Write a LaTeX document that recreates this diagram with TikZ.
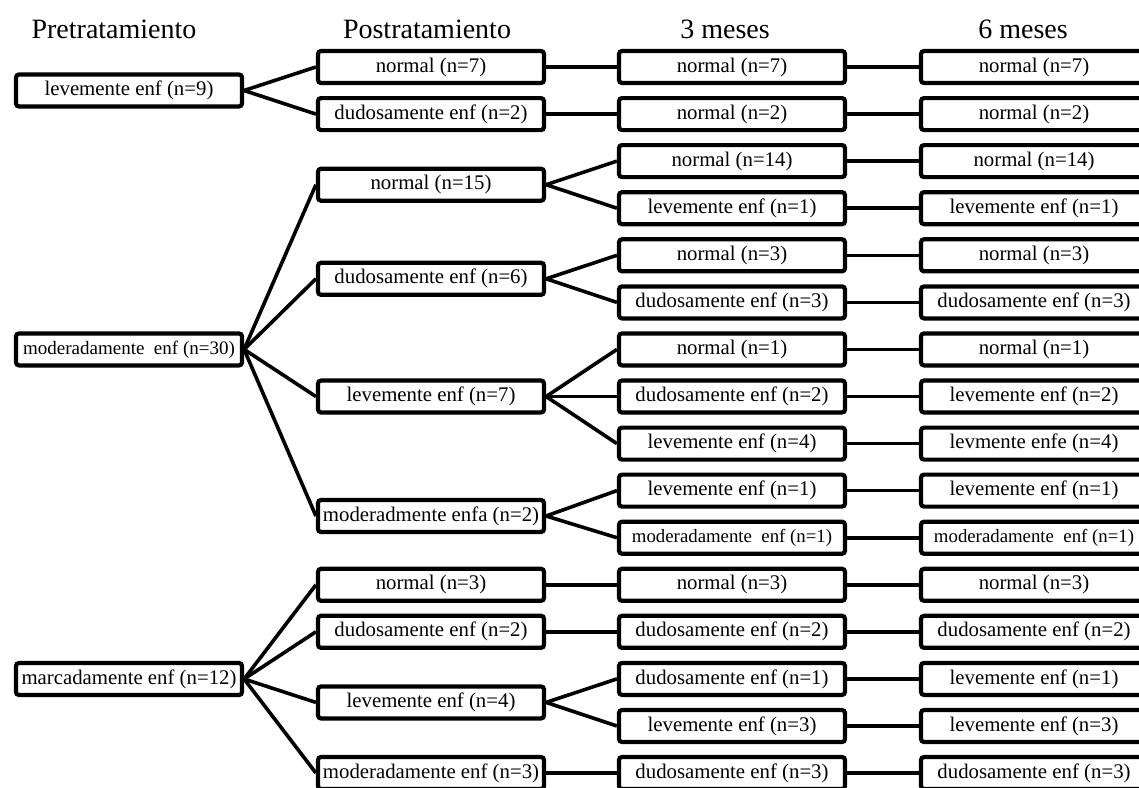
\documentclass[tikz,border=0pt]{standalone}
\usepackage{fontspec}
\setmainfont{Liberation Serif}
\begin{document}
\begin{tikzpicture}[x=1pt,y=-1pt,
  stage/.style={draw=black,line width=4.2pt,rounded corners=3pt,fill=white,
    minimum width=226pt,minimum height=32pt,inner sep=0pt,
    font=\fontsize{20.8}{24}\selectfont},
  head/.style={anchor=base,inner sep=0pt,font=\fontsize{28}{32}\selectfont},
  conn/.style={draw=black,line width=3.6pt}]
\useasboundingbox (0,0) rectangle (1139,787);
\clip (0,0) rectangle (1139,787);

% column headings
\node[head] (h1) at (114,38) {Pretratamiento};
\node[head] (h2) at (427,38) {Postratamiento};
\node[head] (h3) at (725,38) {3 meses};
\node[head] (h4) at (1023,38) {6 meses};

% pretreatment
\node[stage] (a1) at (129,90.5) {levemente enf (n=9)};
\node[stage] (a2) at (129,349.4) {\fontsize{19}{22}\selectfont moderadamente\hspace{0.5em}enf (n=30)};
\node[stage] (a3) at (129,679) {marcadamente enf (n=12)};

% post-treatment
\node[stage] (p1) at (431,67) {normal (n=7)};
\node[stage] (p2) at (431,114.1) {dudosamente enf (n=2)};
\node[stage] (p3) at (431,184.7) {normal (n=15)};
\node[stage] (p4) at (431,278.8) {dudosamente enf (n=6)};
\node[stage] (p5) at (431,396.5) {levemente enf (n=7)};
\node[stage] (p6) at (431,516) {moderadmente enfa (n=2)};
\node[stage] (p7) at (431,584.8) {normal (n=3)};
\node[stage] (p8) at (431,631.8) {dudosamente enf (n=2)};
\node[stage] (p9) at (431,702.4) {levemente enf (n=4)};
\node[stage] (p10) at (431,773) {moderadamente enf (n=3)};

% 3 months
\node[stage] (c1) at (732,67) {normal (n=7)};
\node[stage] (c2) at (732,114.1) {normal (n=2)};
\node[stage] (c3) at (732,161.1) {normal (n=14)};
\node[stage] (c4) at (732,208.2) {levemente enf (n=1)};
\node[stage] (c5) at (732,255.3) {normal (n=3)};
\node[stage] (c6) at (732,302.4) {dudosamente enf (n=3)};
\node[stage] (c7) at (732,349.4) {normal (n=1)};
\node[stage] (c8) at (732,396.5) {dudosamente enf (n=2)};
\node[stage] (c9) at (732,443.6) {levemente enf (n=4)};
\node[stage] (c10) at (732,490.6) {levemente enf (n=1)};
\node[stage] (c11) at (732,537.7) {\fontsize{18.8}{22}\selectfont moderadamente\hspace{0.5em}enf (n=1)};
\node[stage] (c12) at (732,584.8) {normal (n=3)};
\node[stage] (c13) at (732,631.8) {dudosamente enf (n=2)};
\node[stage] (c14) at (732,678.9) {dudosamente enf (n=1)};
\node[stage] (c15) at (732,726) {levemente enf (n=3)};
\node[stage] (c16) at (732,773) {dudosamente enf (n=3)};

% 6 months
\node[stage] (d1) at (1034,67) {normal (n=7)};
\node[stage] (d2) at (1034,114.1) {normal (n=2)};
\node[stage] (d3) at (1034,161.1) {normal (n=14)};
\node[stage] (d4) at (1034,208.2) {levemente enf (n=1)};
\node[stage] (d5) at (1034,255.3) {normal (n=3)};
\node[stage] (d6) at (1034,302.4) {dudosamente enf (n=3)};
\node[stage] (d7) at (1034,349.4) {normal (n=1)};
\node[stage] (d8) at (1034,396.5) {levemente enf (n=2)};
\node[stage] (d9) at (1034,443.6) {levmente enfe (n=4)};
\node[stage] (d10) at (1034,490.6) {levemente enf (n=1)};
\node[stage] (d11) at (1034,537.7) {\fontsize{18.8}{22}\selectfont moderadamente\hspace{0.5em}enf (n=1)};
\node[stage] (d12) at (1034,584.8) {normal (n=3)};
\node[stage] (d13) at (1034,631.8) {dudosamente enf (n=2)};
\node[stage] (d14) at (1034,678.9) {levemente enf (n=1)};
\node[stage] (d15) at (1034,726) {levemente enf (n=3)};
\node[stage] (d16) at (1034,773) {dudosamente enf (n=3)};

% pretreatment -> post-treatment
\foreach \s/\t in {a1/p1,a1/p2,a2/p3,a2/p4,a2/p5,a2/p6,a3/p7,a3/p8,a3/p9,a3/p10}
  \draw[conn] (\s.east) -- (\t.west);

% post-treatment -> 3 months
\foreach \s/\t in {p1/c1,p2/c2,p3/c3,p3/c4,p4/c5,p4/c6,p5/c7,p5/c8,p5/c9,
                   p6/c10,p6/c11,p7/c12,p8/c13,p9/c14,p9/c15,p10/c16}
  \draw[conn] (\s.east) -- (\t.west);

% 3 months -> 6 months
\foreach \i in {1,...,16}
  \draw[conn] (c\i.east) -- (d\i.west);
\end{tikzpicture}
\end{document}
